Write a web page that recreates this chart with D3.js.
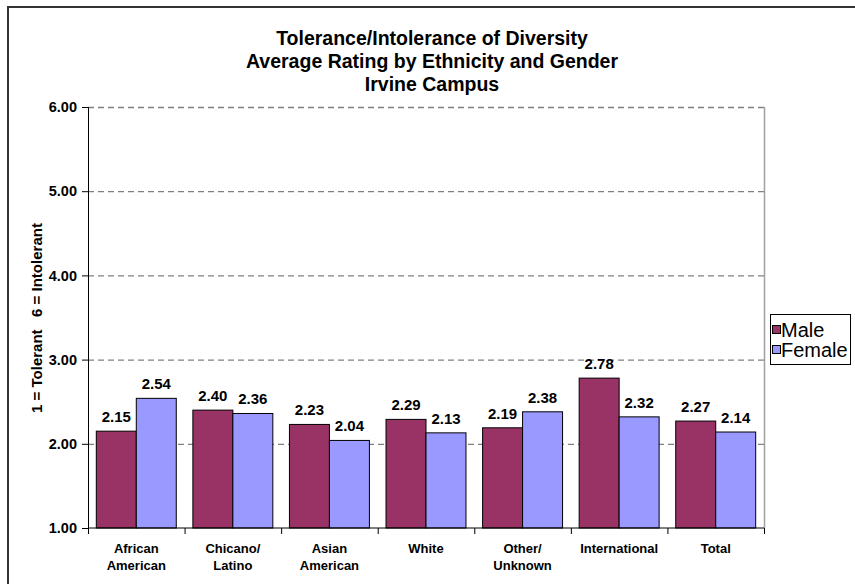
<!DOCTYPE html>
<html><head><meta charset="utf-8">
<script src="https://cdn.jsdelivr.net/npm/d3@7"></script>
<style>body{margin:0;background:#fff;}svg{display:block;font-family:Arial,"Liberation Sans",sans-serif;}</style>
</head><body>
<svg id="c" width="855" height="584"></svg>
<script>
const categories = [["African","American"],["Chicano/","Latino"],["Asian","American"],["White"],["Other/","Unknown"],["International"],["Total"]];
const seriesNames = ["Male","Female"];
const maleValues = [2.15,2.40,2.23,2.29,2.19,2.78,2.27];
const femaleValues = [2.54,2.36,2.04,2.13,2.38,2.32,2.14];
const yTicks = [1,2,3,4,5,6];
const titleLines = ["Tolerance/Intolerance of Diversity","Average Rating by Ethnicity and Gender","Irvine Campus"];
const yTitle = "1 = Tolerant   6 = Intolerant";
const colors = ["#993366","#9999FF"];

const svg = d3.select("#c");
// outer frame
svg.append("rect").attr("x",8).attr("y",7).attr("width",860).attr("height",600)
  .attr("fill","none").attr("stroke","#333").attr("stroke-width",2);

const L=88,R=764,T=107,B=528;
const x0 = d3.scaleBand().domain(d3.range(categories.length)).range([L,R]).paddingInner(0.172).paddingOuter(0.086);
const x1 = d3.scaleBand().domain([0,1]).range([0,x0.bandwidth()]);
const y = d3.scaleLinear().domain([1,6]).range([B,T]);

// grid
svg.append("g").selectAll("line").data(yTicks.filter(t=>t>1)).join("line")
  .attr("x1",L).attr("x2",R).attr("y1",d=>y(d)+0.5).attr("y2",d=>y(d)+0.5)
  .attr("stroke","#808080").attr("stroke-width",1.3).attr("stroke-dasharray","6,4");
// right plot border
svg.append("line").attr("x1",R+0.5).attr("x2",R+0.5).attr("y1",T).attr("y2",B)
  .attr("stroke","#a0a0a0").attr("stroke-width",1.5);

// bars
const data = categories.map((c,i)=>[maleValues[i],femaleValues[i]]);
const g = svg.append("g");
data.forEach((vals,i)=>{
  vals.forEach((v,j)=>{
    const bx = x0(i)+x1(j);
    g.append("rect").attr("x",bx).attr("y",y(v)).attr("width",x1.bandwidth()).attr("height",y(1)-y(v))
      .attr("fill",colors[j]).attr("stroke","#000").attr("stroke-width",1);
    g.append("text").attr("x",bx+x1.bandwidth()/2).attr("y",y(v)-9).attr("text-anchor","middle")
      .attr("font-size","15px").attr("font-weight","bold").text(v.toFixed(2));
  });
});

// y axis
const yAxis = d3.axisLeft(y).tickValues(yTicks).tickFormat(d=>d.toFixed(2)).tickSize(6).tickPadding(5);
const ya = svg.append("g").attr("transform",`translate(${L},0)`).call(yAxis);
ya.select(".domain").attr("stroke","#000");
ya.selectAll("text").attr("font-size","14.5px").attr("font-weight","bold").attr("font-family","Arial,'Liberation Sans',sans-serif");

// x axis
const xs = d3.scaleLinear().domain([0,categories.length]).range([L,R]);
const xa = svg.append("g").attr("transform",`translate(0,${B})`)
  .call(d3.axisBottom(xs).tickValues(d3.range(categories.length+1)).tickSize(6).tickFormat(""));
xa.select(".domain").attr("d",`M${L},0H${R}`).attr("stroke","#000");
categories.forEach((c,i)=>{
  const cx = x0(i)+x0.bandwidth()/2;
  const t = svg.append("text").attr("x",cx).attr("y",553)
    .attr("text-anchor","middle").attr("font-size","13px").attr("font-weight","bold");
  c.forEach((ln,k)=>t.append("tspan").attr("x",cx).attr("dy",k?17:0).text(ln));
});

// titles
titleLines.forEach((t,i)=>{
  svg.append("text").attr("x",432).attr("y",45+i*23).attr("text-anchor","middle")
    .attr("font-size","19.5px").attr("font-weight","bold").text(t);
});
svg.append("text").attr("transform","translate(42,318) rotate(-90)").attr("text-anchor","middle")
  .attr("font-size","15px").attr("font-weight","bold").style("white-space","pre").text(yTitle);

// legend
const lg = svg.append("g");
lg.append("rect").attr("x",770.5).attr("y",314.5).attr("width",80).attr("height",50).attr("fill","#fff").attr("stroke","#000");
seriesNames.forEach((s,i)=>{
  lg.append("rect").attr("x",772.5).attr("y",325.5+i*20).attr("width",8).attr("height",8).attr("fill",colors[i]).attr("stroke","#000");
  lg.append("text").attr("x",781).attr("y",337+i*20).attr("font-size","20px").text(s);
});
</script>
</body></html>
